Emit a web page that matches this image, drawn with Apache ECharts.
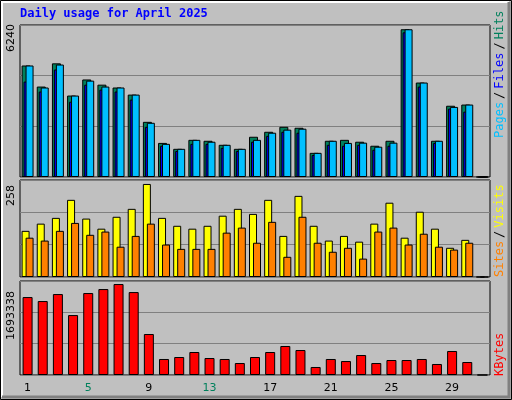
<!DOCTYPE html>
<html><head><meta charset="utf-8">
<script src="https://cdn.jsdelivr.net/npm/echarts@6/dist/echarts.min.js"></script>
<style>html,body{margin:0;padding:0;background:#c0c0c0}#c{width:512px;height:400px}</style>
</head><body><div id="c"></div>
<script>
const days = ['1','2','3','4','5','6','7','8','9','10','11','12','13','14','15','16','17','18','19','20','21','22','23','24','25','26','27','28','29','30','31'];
const weekend = ['5','6','12','13','19','20','26','27'];
const hits = [4710,3820,4800,3440,4120,3900,3780,3480,2330,1440,1190,1570,1530,1360,1190,1700,1910,2120,2080,1020,1530,1570,1490,1320,1530,6240,3990,1530,3010,3060,0];
const files = [4030,3610,4540,3180,3900,3690,3610,3270,2120,1320,1100,1400,1400,1230,1100,1490,1740,1910,1870,930,1360,1320,1360,1150,1320,6110,3820,1440,2890,2760,0];
const pages = [4710,3780,4750,3440,4070,3820,3780,3480,2290,1400,1190,1570,1490,1360,1190,1570,1870,2000,2040,1020,1530,1440,1450,1280,1450,6240,3990,1530,2960,3060,0];
const visits = [128,148,164,214,162,134,167,189,258,164,142,134,142,170,189,175,214,114,225,142,101,114,98,148,206,109,181,134,81,103,0];
const sites = [109,101,128,150,117,126,84,114,148,90,78,78,78,123,137,95,153,56,167,95,70,81,51,126,137,90,120,84,76,95,0];
const kbytes = [1451000,1377000,1507000,1116000,1526000,1600000,1693338,1544000,763000,298000,335000,428000,316000,298000,223000,335000,428000,540000,465000,149000,298000,260000,372000,223000,279000,279000,298000,205000,447000,242000,0];
const maxLabels = ['6240','258','1693338'];

const chart = echarts.init(document.getElementById('c'));
const L = 20, R = 22;
const grids = [
  {left:L, right:R, top:25, height:152},
  {left:L, right:R, top:180, height:97},
  {left:L, right:R, top:281, height:94}
];
const maxes = [6420, 269, 1750000];
function xa(i, show){
  return {type:'category', gridIndex:i, data:days, boundaryGap:true,
    axisLine:{show:false}, axisTick:{show:false},
    axisLabel:{show:show, color:'#000', fontFamily:'DejaVu Sans', fontSize:11, margin:8,
      formatter: v => weekend.includes(v) ? '{g|'+v+'}' : v,
      rich:{g:{color:'#00805c', fontFamily:'DejaVu Sans', fontSize:11}}}};
}
function ya(i){
  return {type:'value', gridIndex:i, min:0, max:maxes[i], interval:maxes[i]/3,
    axisLabel:{show:false}, axisLine:{show:false}, axisTick:{show:false},
    splitLine:{lineStyle:{color:'#808080', width:1}}};
}
const bs = {borderColor:'#000', borderWidth:1};
chart.setOption({
  animation:false,
  backgroundColor:'#c0c0c0',
  grid: grids.map(g => Object.assign({show:true, backgroundColor:'#c0c0c0', borderColor:'#000', borderWidth:1}, g)),
  xAxis:[xa(0,false), xa(1,false), xa(2,true)],
  yAxis:[ya(0), ya(1), ya(2)],
  series:[
    {type:'bar', xAxisIndex:0, yAxisIndex:0, data:hits, barWidth:9, barGap:'-78%', itemStyle:Object.assign({color:'#00805c'},bs)},
    {type:'bar', xAxisIndex:0, yAxisIndex:0, data:files, barWidth:9, barGap:'-78%', itemStyle:Object.assign({color:'#0000ff'},bs)},
    {type:'bar', xAxisIndex:0, yAxisIndex:0, data:pages, barWidth:8, barGap:'-78%', itemStyle:Object.assign({color:'#00c0ff'},bs)},
    {type:'bar', xAxisIndex:1, yAxisIndex:1, data:visits, barWidth:8, barGap:'-50%', itemStyle:Object.assign({color:'#ffff00'},bs)},
    {type:'bar', xAxisIndex:1, yAxisIndex:1, data:sites, barWidth:8, barGap:'-50%', itemStyle:Object.assign({color:'#ff8000'},bs)},
    {type:'bar', xAxisIndex:2, yAxisIndex:2, data:kbytes, barWidth:10, itemStyle:Object.assign({color:'#ff0000'},bs)}
  ],
  graphic:[
    {type:'rect', z:-10, shape:{x:0.5,y:0.5,width:511,height:399}, style:{fill:'none', stroke:'#000', lineWidth:1}},
    {type:'polyline', z:-10, shape:{points:[[2,397],[2,2],[509,2]]}, style:{stroke:'#fff', lineWidth:2, fill:'none'}},
    {type:'polyline', z:-10, shape:{points:[[509,2],[509,397],[2,397]]}, style:{stroke:'#808080', lineWidth:3, fill:'none'}},
    {type:'text', left:20, top:8, style:{text:'Daily usage for April 2025', fill:'#0000ff', font:'bold 12px "DejaVu Sans Mono"'}},
    {type:'text', x:6, y:52, rotation:Math.PI/2, style:{text:maxLabels[0], fill:'#000', font:'11px "DejaVu Sans"'}},
    {type:'text', x:6, y:206, rotation:Math.PI/2, style:{text:maxLabels[1], fill:'#000', font:'11px "DejaVu Sans"'}},
    {type:'text', x:6, y:340, rotation:Math.PI/2, style:{text:maxLabels[2], fill:'#000', font:'11px "DejaVu Sans"'}},
    {type:'text', x:494, y:138, rotation:Math.PI/2, style:{text:'{a|Pages}{k|/}{b|Files}{k|/}{c|Hits}', font:'12px "DejaVu Sans Mono"',
      rich:{a:{fill:'#00c0ff',font:'12px "DejaVu Sans Mono"'},b:{fill:'#0000ff',font:'12px "DejaVu Sans Mono"'},c:{fill:'#00805c',font:'12px "DejaVu Sans Mono"'},k:{fill:'#000',font:'12px "DejaVu Sans Mono"',padding:[0,3]}}}},
    {type:'text', x:494, y:277, rotation:Math.PI/2, style:{text:'{a|Sites}{k|/}{b|Visits}', font:'12px "DejaVu Sans Mono"',
      rich:{a:{fill:'#ff8000',font:'12px "DejaVu Sans Mono"'},b:{fill:'#ffff00',font:'12px "DejaVu Sans Mono"'},k:{fill:'#000',font:'12px "DejaVu Sans Mono"',padding:[0,3]}}}},
    {type:'text', x:494, y:376, rotation:Math.PI/2, style:{text:'KBytes', fill:'#ff0000', font:'12px "DejaVu Sans Mono"'}}
  ]
});
</script></body></html>
